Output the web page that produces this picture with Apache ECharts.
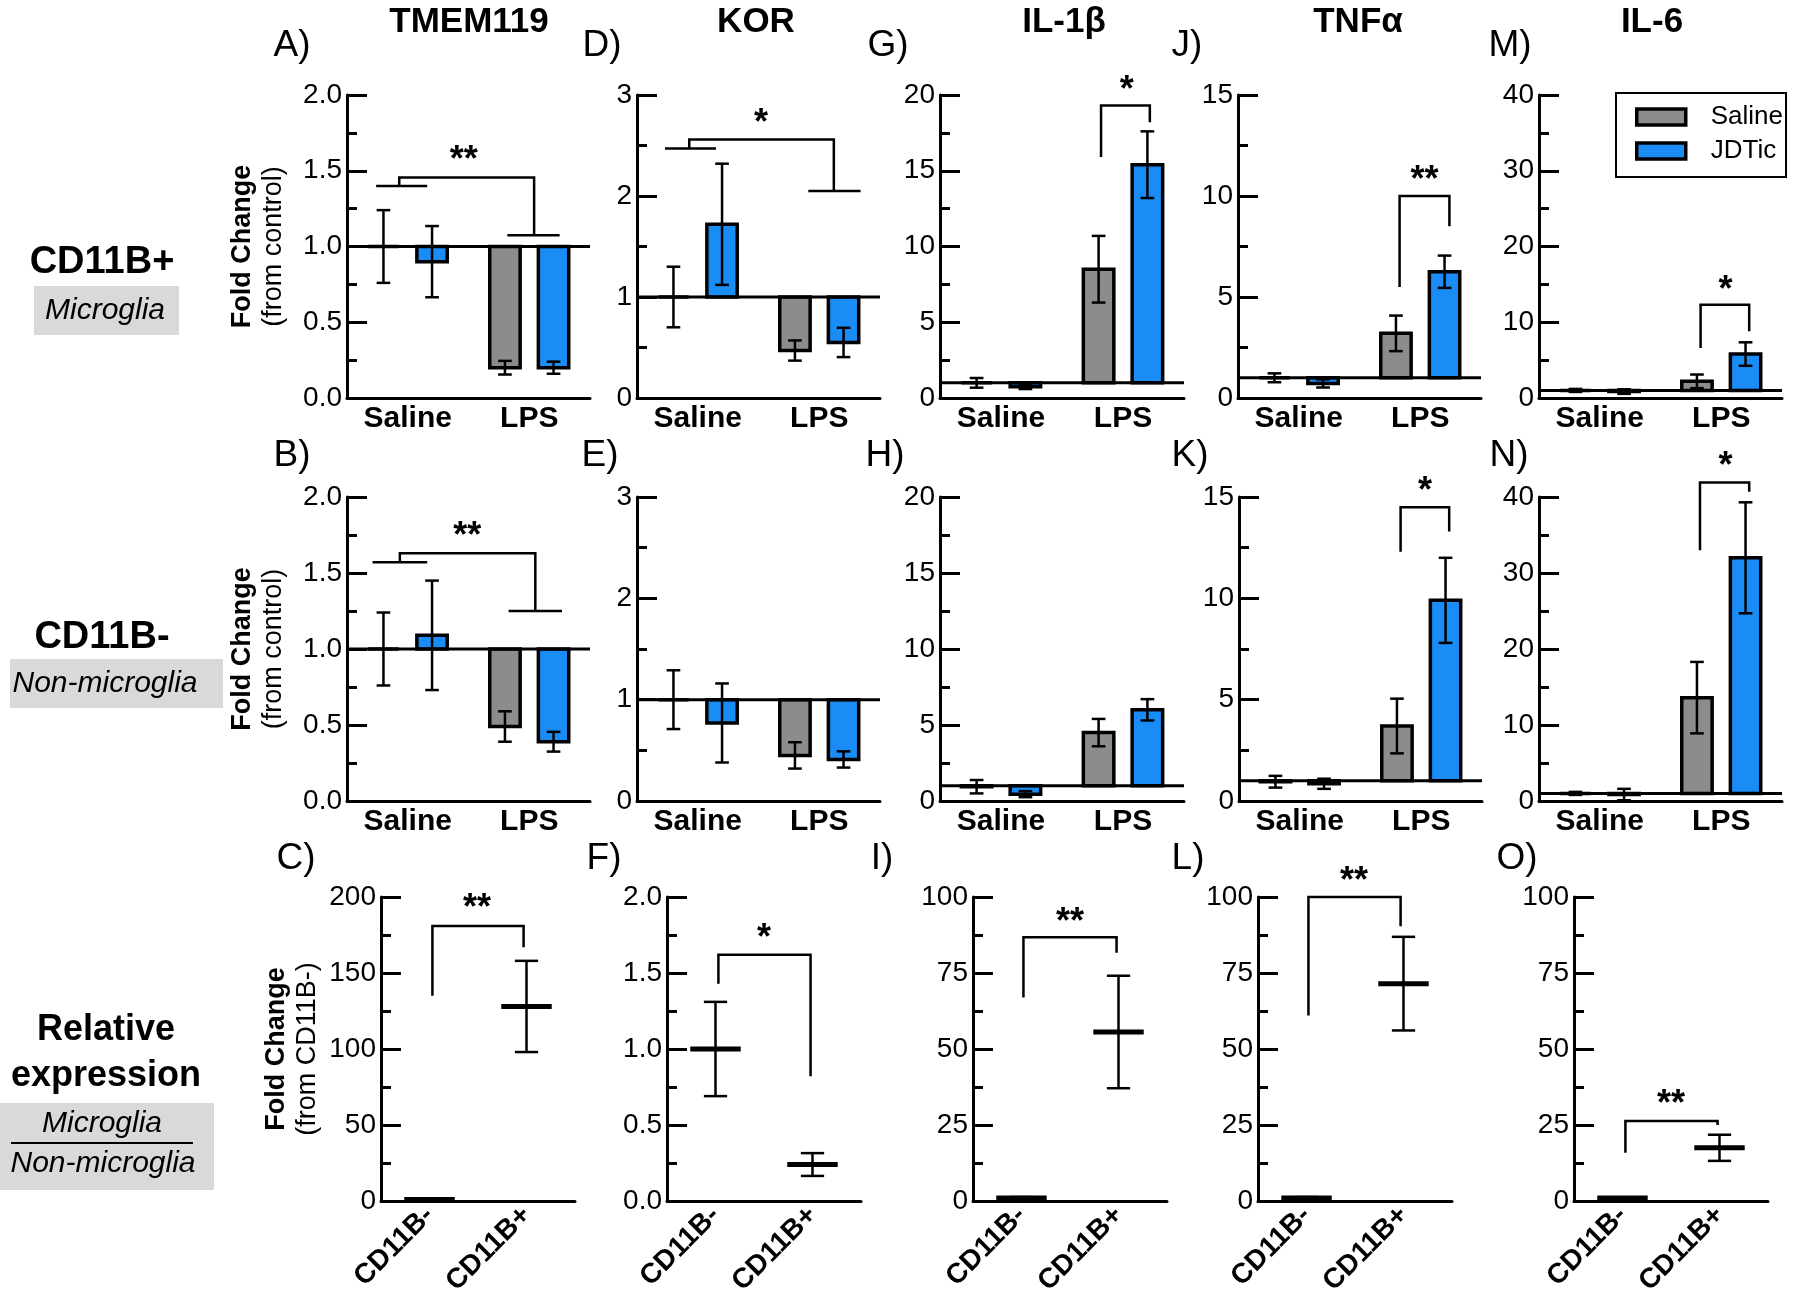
<!DOCTYPE html>
<html><head><meta charset="utf-8">
<script src="https://cdn.jsdelivr.net/npm/echarts@6/dist/echarts.min.js"></script>
<style>html,body{margin:0;padding:0;background:#fff}#c{width:1800px;height:1307px}</style>
</head><body><div id="c"></div>
<script>
// ================= DATA =================
const genes = ['TMEM119', 'KOR', 'IL-1β', 'TNFα', 'IL-6'];
const groupLabels = ['Saline', 'LPS'];
const treatmentNames = ['Saline', 'JDTic'];
const cellLabels = ['CD11B-', 'CD11B+'];
const FOLD_BASE = 1;

// Row 1: CD11B+ (microglia); index = [Saline group, LPS group]
const A_salMean = [1.00, 0.20], A_salErr = [0.24, 0.045];
const A_jdtMean = [0.90, 0.20], A_jdtErr = [0.235, 0.04];
const D_salMean = [1.00, 0.47], D_salErr = [0.30, 0.10];
const D_jdtMean = [1.72, 0.55], D_jdtErr = [0.60, 0.145];
const G_salMean = [1.00, 8.5], G_salErr = [0.32, 2.2];
const G_jdtMean = [0.75, 15.4], G_jdtErr = [0.16, 2.2];
const J_salMean = [1.00, 3.2], J_salErr = [0.22, 0.88];
const J_jdtMean = [0.72, 6.25], J_jdtErr = [0.20, 0.80];
const M_salMean = [1.00, 2.2], M_salErr = [0.20, 0.9];
const M_jdtMean = [0.85, 5.8], M_jdtErr = [0.30, 1.55];

// Row 2: CD11B- (non-microglia)
const B_salMean = [1.00, 0.49], B_salErr = [0.24, 0.10];
const B_jdtMean = [1.09, 0.39], B_jdtErr = [0.36, 0.065];
const E_salMean = [1.00, 0.45], E_salErr = [0.29, 0.13];
const E_jdtMean = [0.77, 0.41], E_jdtErr = [0.39, 0.08];
const H_salMean = [0.94, 4.5], H_salErr = [0.44, 0.9];
const H_jdtMean = [0.45, 6.0], H_jdtErr = [0.20, 0.7];
const K_salMean = [0.95, 3.7], K_salErr = [0.29, 1.35];
const K_jdtMean = [0.85, 9.9], K_jdtErr = [0.25, 2.1];
const N_salMean = [1.00, 13.6], N_salErr = [0.20, 4.7];
const N_jdtMean = [0.85, 32.0], N_jdtErr = [0.75, 7.3];

// Row 3: relative expression (microglia / non-microglia); index = [CD11B-, CD11B+]
const C_mean = [1, 128], C_err = [0.5, 30];
const F_mean = [1.0, 0.24], F_err = [0.31, 0.075];
const I_mean = [1, 55.6], I_err = [0.3, 18.5];
const L_mean = [1, 71.5], L_err = [0.3, 15.4];
const O_mean = [1, 17.5], O_err = [0.2, 4.3];

// Significance annotations (x in category units, y in data units)
const A_sig = {lines: [[[-0.26,1.40],[0.16,1.40]], [[-0.07,1.40],[-0.07,1.455],[1.04,1.455],[1.04,1.075]], [[0.82,1.075],[1.25,1.075]]], star: [0.46, 1.61], text: '**'};
const B_sig = {lines: [[[-0.29,1.57],[0.16,1.57]], [[-0.065,1.57],[-0.065,1.63],[1.05,1.63],[1.05,1.25]], [[0.83,1.25],[1.27,1.25]]], star: [0.49, 1.78], text: '**'};
const D_sig = {lines: [[[-0.27,2.47],[0.15,2.47]], [[-0.07,2.47],[-0.07,2.56],[1.12,2.56],[1.12,2.05]], [[0.91,2.05],[1.34,2.05]]], star: [0.52, 2.78], text: '*'};
const G_sig = {lines: [[[0.82,15.9],[0.82,19.3],[1.22,19.3],[1.22,18.2]]], star: [1.03, 20.7], text: '*'};
const J_sig = {lines: [[[0.83,5.5],[0.83,10.0],[1.24,10.0],[1.24,8.5]]], star: [1.035, 11.1], text: '**'};
const M_sig = {lines: [[[0.83,6.6],[0.83,12.3],[1.23,12.3],[1.23,8.8]]], star: [1.035, 15.1], text: '*'};
const K_sig = {lines: [[[0.83,12.3],[0.83,14.5],[1.23,14.5],[1.23,13.3]]], star: [1.03, 15.6], text: '*'};
const N_sig = {lines: [[[0.825,33.0],[0.825,41.9],[1.23,41.9],[1.23,40.7]]], star: [1.035, 44.9], text: '*'};
const C_sig = {lines: [[[0.03,135],[0.03,181],[0.97,181],[0.97,167]]], star: [0.49, 196.7], text: '**'};
const F_sig = {lines: [[[0.03,1.43],[0.03,1.62],[0.98,1.62],[0.98,0.82]]], star: [0.5, 1.77], text: '*'};
const I_sig = {lines: [[[0.02,66.9],[0.02,86.8],[0.98,86.8],[0.98,81.7]]], star: [0.5, 93.8], text: '**'};
const L_sig = {lines: [[[0.02,61],[0.02,100],[0.97,100],[0.97,90.4]]], star: [0.49, 107.3], text: '**'};
const O_sig = {lines: [[[0.03,15.9],[0.03,26.3],[0.98,26.3],[0.98,25]]], star: [0.5, 33.7], text: '**'};

// ================= STYLE / LAYOUT =================
const FONT = "'Liberation Sans', Arial, Helvetica, sans-serif";
const GRAY = '#8c8c8c', BLUE = '#1a8cf5', BLACK = '#000';
const BAR_OFF = 0.2, BAR_W = 0.25, CAP = 0.45;

const panels = [
  {id:'A', kind:'bar', left:347, top:95, width:243, height:303, max:2, step:0.5, dec:1, sal:[A_salMean,A_salErr], jdt:[A_jdtMean,A_jdtErr], sig:A_sig, yname:'(from control)'},
  {id:'D', kind:'bar', left:637, top:95, width:243, height:303, max:3, step:1, dec:0, sal:[D_salMean,D_salErr], jdt:[D_jdtMean,D_jdtErr], sig:D_sig},
  {id:'G', kind:'bar', left:940, top:95, width:244, height:303, max:20, step:5, dec:0, sal:[G_salMean,G_salErr], jdt:[G_jdtMean,G_jdtErr], sig:G_sig},
  {id:'J', kind:'bar', left:1238, top:95, width:243, height:303, max:15, step:5, dec:0, sal:[J_salMean,J_salErr], jdt:[J_jdtMean,J_jdtErr], sig:J_sig},
  {id:'M', kind:'bar', left:1539, top:95, width:243, height:303, max:40, step:10, dec:0, sal:[M_salMean,M_salErr], jdt:[M_jdtMean,M_jdtErr], sig:M_sig},
  {id:'B', kind:'bar', left:347, top:497, width:243, height:304, max:2, step:0.5, dec:1, sal:[B_salMean,B_salErr], jdt:[B_jdtMean,B_jdtErr], sig:B_sig, yname:'(from control)'},
  {id:'E', kind:'bar', left:637, top:497, width:243, height:304, max:3, step:1, dec:0, sal:[E_salMean,E_salErr], jdt:[E_jdtMean,E_jdtErr], sig:null},
  {id:'H', kind:'bar', left:940, top:497, width:244, height:304, max:20, step:5, dec:0, sal:[H_salMean,H_salErr], jdt:[H_jdtMean,H_jdtErr], sig:null},
  {id:'K', kind:'bar', left:1239, top:497, width:243, height:304, max:15, step:5, dec:0, sal:[K_salMean,K_salErr], jdt:[K_jdtMean,K_jdtErr], sig:K_sig},
  {id:'N', kind:'bar', left:1539, top:497, width:243, height:304, max:40, step:10, dec:0, sal:[N_salMean,N_salErr], jdt:[N_jdtMean,N_jdtErr], sig:N_sig},
  {id:'C', kind:'mean', left:381, top:897, width:194, height:304, max:200, step:50, dec:0, m:[C_mean,C_err], sig:C_sig, yname:'(from CD11B-)'},
  {id:'F', kind:'mean', left:667, top:897, width:194, height:304, max:2, step:0.5, dec:1, m:[F_mean,F_err], sig:F_sig},
  {id:'I', kind:'mean', left:973, top:897, width:194, height:304, max:100, step:25, dec:0, m:[I_mean,I_err], sig:I_sig},
  {id:'L', kind:'mean', left:1258, top:897, width:194, height:304, max:100, step:25, dec:0, m:[L_mean,L_err], sig:L_sig},
  {id:'O', kind:'mean', left:1574, top:897, width:194, height:304, max:100, step:25, dec:0, m:[O_mean,O_err], sig:O_sig}
];

const lineStyle = (w) => ({stroke: BLACK, lineWidth: w, lineCap: 'butt'});

// Category axis coord for a fractional category position (index + offset in band units)
function coordAt(api, u, v) {
  const k = Math.round(u);
  const p = api.coord([k, v]);
  const cw = api.size([1, 0])[0];
  return [p[0] + (u - k) * cw, p[1]];
}

function barRender(offset, color) {
  return function (params, api) {
    const cat = api.value(0), v = api.value(1), e = api.value(2);
    const cw = api.size([1, 0])[0];
    const c = api.coord([cat, v]);
    const b = api.coord([cat, FOLD_BASE]);
    const x = c[0] + offset * cw;
    const bw = BAR_W * cw;
    const hi = api.coord([cat, v + e])[1];
    const lo = api.coord([cat, Math.max(0, v - e)])[1];
    const cap = bw * CAP;
    return {type: 'group', children: [
      {type: 'rect', shape: {x: x - bw / 2, y: Math.min(c[1], b[1]), width: bw, height: Math.abs(c[1] - b[1])},
       style: {fill: color, stroke: BLACK, lineWidth: 3.5}},
      {type: 'line', shape: {x1: x, y1: hi, x2: x, y2: lo}, style: lineStyle(2.5)},
      {type: 'line', shape: {x1: x - cap / 2, y1: hi, x2: x + cap / 2, y2: hi}, style: lineStyle(2.5)},
      {type: 'line', shape: {x1: x - cap / 2, y1: lo, x2: x + cap / 2, y2: lo}, style: lineStyle(2.5)}
    ]};
  };
}

function meanRender(params, api) {
  const cat = api.value(0), v = api.value(1), e = api.value(2);
  const cw = api.size([1, 0])[0];
  const p = api.coord([cat, v]);
  const hi = api.coord([cat, v + e])[1], lo = api.coord([cat, Math.max(0, v - e)])[1];
  const mw = 0.52 * cw, cap = 0.24 * cw;
  return {type: 'group', children: [
    {type: 'line', shape: {x1: p[0], y1: hi, x2: p[0], y2: lo}, style: lineStyle(2.5)},
    {type: 'line', shape: {x1: p[0] - cap / 2, y1: hi, x2: p[0] + cap / 2, y2: hi}, style: lineStyle(2.5)},
    {type: 'line', shape: {x1: p[0] - cap / 2, y1: lo, x2: p[0] + cap / 2, y2: lo}, style: lineStyle(2.5)},
    {type: 'line', shape: {x1: p[0] - mw / 2, y1: p[1], x2: p[0] + mw / 2, y2: p[1]}, style: lineStyle(5)}
  ]};
}

function refRender(params, api) {
  const cs = params.coordSys;
  const y = api.coord([0, api.value(1)])[1];
  return {type: 'line', shape: {x1: cs.x, y1: y, x2: cs.x + cs.width, y2: y}, style: lineStyle(3)};
}

function sigRender(sig) {
  return function (params, api) {
    const children = sig.lines.map(pl => ({
      type: 'polyline',
      shape: {points: pl.map(pt => coordAt(api, pt[0], pt[1]))},
      style: {stroke: BLACK, lineWidth: 2.5, fill: null, lineJoin: 'miter'}
    }));
    const s = coordAt(api, sig.star[0], sig.star[1]);
    children.push({type: 'text', x: s[0], y: s[1] + 7,
      style: {text: sig.text, fontSize: 36, fontWeight: 'bold', fontFamily: FONT, fill: BLACK, align: 'center', verticalAlign: 'middle'}});
    return {type: 'group', children};
  };
}

const grid = [], xAxis = [], yAxis = [], series = [];
panels.forEach((p, i) => {
  grid.push({left: p.left, top: p.top, width: p.width, height: p.height});
  const isBar = p.kind === 'bar';
  xAxis.push({
    gridIndex: i, type: 'category', data: isBar ? groupLabels : cellLabels,
    axisLine: {lineStyle: {color: BLACK, width: 3}}, axisTick: {show: false},
    axisLabel: isBar
      ? {color: BLACK, fontFamily: FONT, fontWeight: 'bold', fontSize: 30, margin: 6}
      : {color: BLACK, fontFamily: FONT, fontWeight: 'bold', fontSize: 28, margin: 10, rotate: 45}
  });
  const y = {
    gridIndex: i, type: 'value', min: 0, max: p.max, interval: p.step,
    splitLine: {show: false},
    axisLine: {show: true, lineStyle: {color: BLACK, width: 3}},
    axisTick: {show: true, inside: true, length: 20, lineStyle: {color: BLACK, width: 3}},
    minorTick: {show: true, splitNumber: 2, length: 10, lineStyle: {color: BLACK, width: 3}},
    axisLabel: {color: BLACK, fontFamily: FONT, fontSize: 28, margin: 5,
      formatter: (v) => v.toFixed(p.dec)}
  };
  if (p.yname) {
    Object.assign(y, {
      name: '{b|Fold Change}\n{r|' + p.yname + '}', nameLocation: 'middle', nameRotate: 90, nameGap: 58,
      nameTextStyle: {rich: {
        b: {fontSize: 27, fontWeight: 'bold', fontFamily: FONT, lineHeight: 31, color: BLACK},
        r: {fontSize: 27, fontFamily: FONT, lineHeight: 31, color: BLACK}
      }}
    });
  }
  yAxis.push(y);

  if (isBar) {
    series.push({type: 'custom', name: treatmentNames[0], xAxisIndex: i, yAxisIndex: i, itemStyle: {color: GRAY},
      data: groupLabels.map((g, k) => [k, p.sal[0][k], p.sal[1][k]]), renderItem: barRender(-BAR_OFF, GRAY), z: 2});
    series.push({type: 'custom', name: treatmentNames[1], xAxisIndex: i, yAxisIndex: i, itemStyle: {color: BLUE},
      data: groupLabels.map((g, k) => [k, p.jdt[0][k], p.jdt[1][k]]), renderItem: barRender(BAR_OFF, BLUE), z: 2});
    series.push({type: 'custom', xAxisIndex: i, yAxisIndex: i, data: [[0, FOLD_BASE]], renderItem: refRender, z: 3, silent: true});
  } else {
    series.push({type: 'custom', xAxisIndex: i, yAxisIndex: i,
      data: cellLabels.map((g, k) => [k, p.m[0][k], p.m[1][k]]), renderItem: meanRender, z: 2});
  }
  if (p.sig) {
    series.push({type: 'custom', xAxisIndex: i, yAxisIndex: i, data: [[0, 0]], renderItem: sigRender(p.sig), z: 4, silent: true, clip: false});
  }
});

const txt = (text, x, y, size, weight, style, extra) => Object.assign({
  type: 'text', x, y, silent: true,
  style: {text, fontSize: size, fontWeight: weight || 'normal', fontStyle: style || 'normal', fontFamily: FONT, fill: BLACK, align: 'center', verticalAlign: 'middle'}
}, extra || {});

const titleX = [469, 756, 1064, 1358, 1652];
const letterSpecs = [
  ['A)', 292, 46], ['D)', 602, 46], ['G)', 888, 46], ['J)', 1187, 46], ['M)', 1510, 46],
  ['B)', 292, 456], ['E)', 600, 456], ['H)', 885, 456], ['K)', 1190, 456], ['N)', 1509, 456],
  ['C)', 296, 859], ['F)', 604, 859], ['I)', 882, 859], ['L)', 1188, 859], ['O)', 1517, 859]
];

const graphic = [];
genes.forEach((g, k) => graphic.push(txt(g, titleX[k], 22, 35, 'bold')));
letterSpecs.forEach(s => graphic.push(txt(s[0], s[1], s[2], 37)));
// Row labels
graphic.push(txt('CD11B+', 102, 263, 38, 'bold'));
graphic.push({type: 'rect', shape: {x: 34, y: 286, width: 145, height: 49}, style: {fill: '#d9d9d9'}, silent: true, z: -1});
graphic.push(txt('Microglia', 105, 311, 30, 'normal', 'italic'));
graphic.push(txt('CD11B-', 102, 638, 38, 'bold'));
graphic.push({type: 'rect', shape: {x: 10, y: 659, width: 213, height: 49}, style: {fill: '#d9d9d9'}, silent: true, z: -1});
graphic.push(txt('Non-microglia', 105, 684, 30, 'normal', 'italic'));
graphic.push(txt('Relative', 106, 1030, 36, 'bold'));
graphic.push(txt('expression', 106, 1076, 36, 'bold'));
graphic.push({type: 'rect', shape: {x: 0, y: 1103, width: 214, height: 87}, style: {fill: '#d9d9d9'}, silent: true, z: -1});
graphic.push(txt('Microglia', 102, 1124, 30, 'normal', 'italic'));
graphic.push({type: 'line', shape: {x1: 11, y1: 1143, x2: 193, y2: 1143}, style: {stroke: BLACK, lineWidth: 2}, silent: true});
graphic.push(txt('Non-microglia', 103, 1164, 30, 'normal', 'italic'));

const chart = echarts.init(document.getElementById('c'), null, {renderer: 'canvas'});
chart.setOption({
  animation: false,
  backgroundColor: '#fff',
  grid, xAxis, yAxis, series, graphic,
  legend: {
    data: treatmentNames, orient: 'vertical', left: 1616, top: 93,
    borderColor: BLACK, borderWidth: 2, padding: [11, 3, 13, 19],
    itemWidth: 49, itemHeight: 16, itemGap: 8, icon: 'rect', selectedMode: false,
    itemStyle: {borderColor: BLACK, borderWidth: 3.5},
    textStyle: {fontSize: 26, fontFamily: FONT, color: BLACK, lineHeight: 26, padding: [0, 0, 0, 20]}
  }
});
</script></body></html>
